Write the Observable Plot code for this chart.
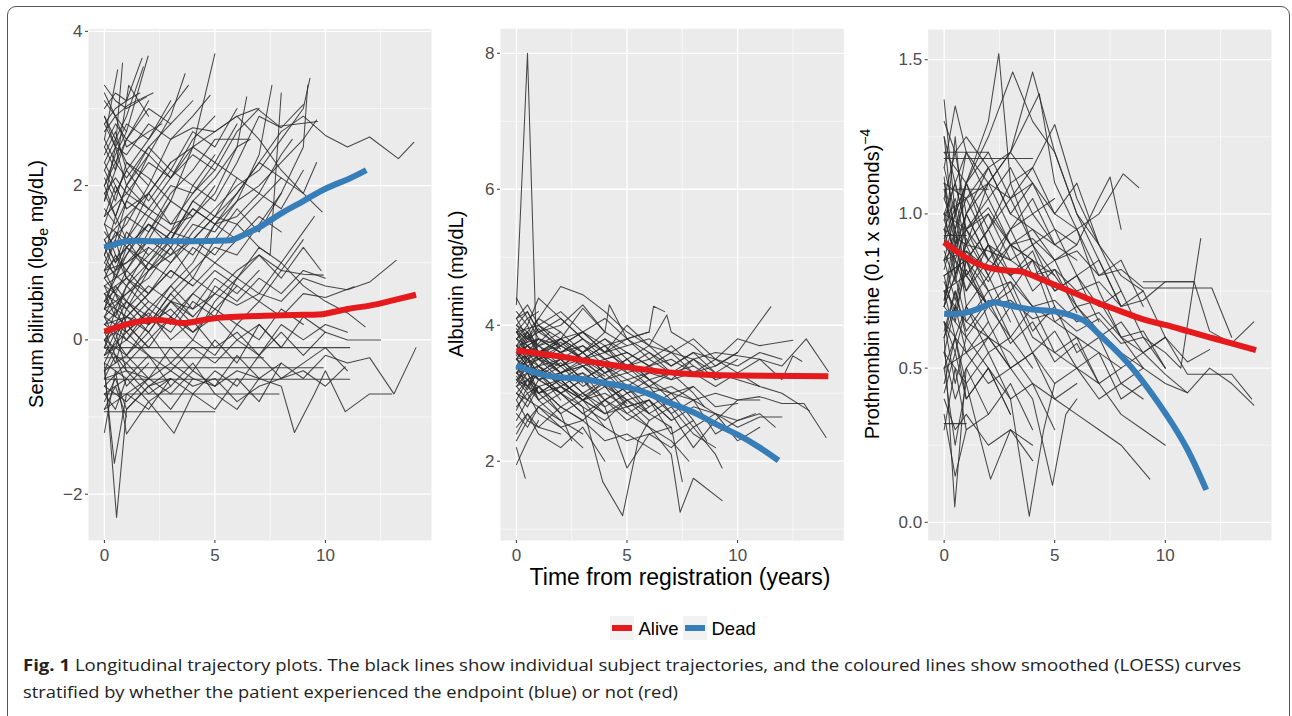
<!DOCTYPE html>
<html><head><meta charset="utf-8">
<script src="https://cdn.jsdelivr.net/npm/d3@7"></script>
<script src="https://cdn.jsdelivr.net/npm/@observablehq/plot@0.6"></script>
<style>
body{margin:0;background:#fff;}
#wrap{position:relative;width:1292px;height:716px;overflow:hidden;font-family:"Liberation Sans",Arial,sans-serif;}
#frame{position:absolute;left:7px;top:6px;width:1283px;height:760px;border:1.4px solid #555;border-radius:9px;box-sizing:border-box;}
.panel{position:absolute;top:0;}
#overlay{position:absolute;left:0;top:0;}
</style></head>
<body>
<div id="wrap"><div id="frame"></div>
<div id="p1" class="panel" style="left:0px"></div>
<div id="p2" class="panel" style="left:440px"></div>
<div id="p3" class="panel" style="left:850px"></div>
<svg id="overlay" width="1292" height="716"></svg>
</div>
<script>
// ---------- axis ticks ----------
const xTicks = [0, 5, 10];
const xMinor = [2.5, 7.5, 12.5];
const biliTicks = [-2, 0, 2, 4];
const biliMinor = [-1, 1, 3];
const albTicks = [2, 4, 6, 8];
const albMinor = [1, 3, 5, 7];
const proTicks = [0.0, 0.5, 1.0, 1.5];
const proMinor = [0.25, 0.75, 1.25];

// ---------- individual trajectories: [t0, v0, t1, v1, ...] ----------
const biliSubjects = [
  [0,0.4, 0.5,0.5, 1,0.6, 2,0.9, 3,1.1, 4,1.3, 5,1.6, 6,1.9, 7,2.3, 8,2.7, 9,2.9, 10,2.65, 11,2.5, 12,2.63, 13.3,2.35, 14,2.56],
  [0,-0.5, 1,-0.4, 2,-0.5, 3,-0.3, 4,-0.5, 5,-0.6, 6,-0.4, 7,-0.5, 8,-0.3, 9,-0.5, 10,-0.2, 11,-0.3, 12,-0.23, 13.1,-0.7, 14.1,-0.1],
  [0,0.2, 1,0.3, 2,0.1, 3,0.5, 4,0.4, 5,0.6, 6,0.45, 7,0.6, 8,0.5, 9,0.8, 10,0.7, 11,0.65, 12,0.75, 13.2,1.03],
  [0,-0.3, 1,-0.5, 2,-0.2, 3,-0.6, 4,-0.3, 5,-0.7, 6,-0.9, 7,-0.5, 8,-0.6, 8.6,-1.2, 9.5,-0.7, 10,-0.4, 10.9,-0.93, 12,-0.7, 13,-0.7],
  [0,0.9, 1,1.0, 2,1.3, 3,1.1, 4,1.5, 5,1.4, 6,1.8, 7,2.0, 8,2.3, 9,2.6, 9.6,2.85],
  [0,0.5, 1,0.3, 2,0.6, 3,0.9, 4,0.7, 5,1.0, 6,0.8, 7,1.2, 8,1.0, 9,0.7, 10,0.5, 11,0.35, 11.8,0.17],
  [0,0.0, 1,0.2, 2,-0.1, 3,0.3, 4,0.1, 5,0.4, 6,0.2, 7,0.5, 8,0.3, 9,0.6, 10,0.55, 11.3,0.69],
  [0,-0.51, 2,-0.51, 5,-0.51, 8,-0.51, 11.1,-0.51],
  [0,-0.1, 5,-0.1, 8,-0.1, 11.1,-0.1],
  [0,-0.23, 3,-0.23, 7.2,-0.23],
  [0,-0.36, 4,-0.36, 9.9,-0.36],
  [0,-0.7, 3,-0.7, 7.9,-0.7],
  [0,-0.93, 2,-0.93, 5,-0.93],
  [0,1.5, 0.5,1.9, 1,2.2, 2,2.6, 3,3.0, 3.8,3.3],
  [0,1.0, 0.5,1.3, 1,1.8, 2,2.4, 3,2.9, 3.65,3.45],
  [0,0.7, 1,0.9, 2,1.3, 3,1.8, 4,2.5, 5,3.71],
  [0,2.0, 0.5,2.4, 1,2.7, 1.98,3.68],
  [0,1.8, 0.5,2.5, 0.82,3.59],
  [0,2.3, 0.5,2.6, 1,2.9, 1.76,3.54],
  [0,1.2, 1,1.5, 2,2.0, 3,2.6, 4,2.9, 4.78,3.17],
  [0,0.3, 1,0.6, 2,0.8, 3,1.2, 4,1.6, 5,1.9, 6,2.5, 6.44,3.15],
  [0,-0.2, 1,0.1, 2,0.4, 3,0.7, 4,1.0, 5,1.5, 6,1.8, 7,2.4, 7.58,3.3],
  [0,0.6, 1,0.8, 2,1.1, 3,1.4, 4,1.3, 5,1.6, 6,1.5, 7,1.2, 7.5,1.1, 8,3.2],
  [0,0.8, 1,1.0, 2,1.2, 3,1.0, 4,1.4, 5,1.7, 6,2.0, 7,2.2, 8,2.6, 9,3.0, 9.3,3.39],
  [0,0.1, 1,0.3, 2,0.2, 3,0.6, 4,0.9, 5,1.2, 6,1.1, 7,1.5, 8,1.9, 9,2.5, 9.2,3.3],
  [0,2.2, 0.5,2.5, 1,2.4, 2,2.8, 3,2.6, 4,2.75, 5,2.7, 6,2.9, 6.9,3.0, 7.9,2.77, 9.65,2.83],
  [0,1.3, 1,1.6, 2,1.9, 3,2.3, 4,2.5, 5,2.7, 6,2.9, 7,2.6, 8,2.2, 9,1.9, 9.85,1.66],
  [0,-0.7, 1,-0.5, 2,-0.8, 3.15,-1.21, 4,-0.7, 5,-0.9, 6,-0.5, 7,-0.8, 8,-0.3],
  [0,-1.2, 0.5,-0.4, 1,-1.22, 2,-0.8, 3,-0.6],
  [0,-0.4, 0.45,-1.6, 1,-0.7, 2,-0.5],
  [0,-0.3, 0.55,-2.3, 1,-0.9, 2,-0.6, 3,-0.5],
  [0,1.7, 0.5,1.5, 1,1.8, 2,1.6, 3,2.0, 4,1.9, 5,2.2],
  [0,2.7, 0.5,2.9, 1,2.5, 2,2.7, 2.6,2.8],
  [0,2.9, 0.5,2.6, 1,2.3, 2,2.1, 3,1.8],
  [0,0.0, 0.5,0.2, 1,0.5, 2,1.0, 3,1.3, 4,1.8, 5,2.1, 6,2.5, 6.6,2.6],
  [0,-0.1, 1,-0.3, 2,0.0, 3,0.3, 4,0.0, 5,0.5, 6,0.8, 7,0.6, 8,1.0, 9,1.4, 9.5,1.6],
  [0,0.4, 1,0.2, 2,0.5, 3,0.3, 4,0.6, 5,0.4, 6,0.7, 7,0.5, 8,0.9, 9,0.85, 9.9,0.84],
  [0,-0.6, 1,-0.3, 2,-0.6, 3,-0.4, 4,-0.1, 5,-0.3, 6,0.0, 7,-0.2, 8,0.1, 9,-0.2, 10,0.1, 11,0.0, 12.5,0.0],
  [0,0.2, 1,0.0, 2,-0.2, 3,-0.4, 4,-0.6, 5,-0.5, 6,-0.8, 7,-0.6, 8,-0.5, 9,-0.4, 10,-0.6, 10.9,-0.35],
  [0,1.1, 0.5,1.4, 1,1.2, 2,1.5, 3,1.3, 4,1.7, 5,1.5, 6,1.6, 7,1.9, 8,1.7, 9,2.2],
  [0,1.4, 0.5,1.2, 1,1.6, 2,1.4, 3,1.9, 4,2.2, 5,2.6, 6,2.6, 6.5,2.6],
  [0,0.9, 0.5,0.6, 1,0.4, 2,0.7, 3,0.5, 4,0.8, 5,0.6, 6,0.9, 7,1.1, 8,0.8, 9,1.2, 9.8,0.9],
  [0,-0.9, 1,-0.7, 2,-0.9, 3,-0.5, 4,-0.7, 5,-0.4, 6,-0.6, 7,-0.2, 8,-0.5, 9,-0.3, 10,-0.1, 11,-0.4],
  [0,0.5, 0.5,0.8, 1,1.1, 2,1.6, 3,1.4, 4,2.0, 5,1.8, 6,2.3, 7,2.9, 8,2.75, 9,3.05],
  [0,1.9, 0.5,2.1, 1,1.9, 2,2.3, 3,2.1, 4,2.5, 5,2.3, 6,2.8],
  [0,0.3, 1,0.1, 2,0.35, 3,0.0, 4,0.25, 5,-0.1, 6,0.1, 7,-0.2, 8,0.2, 9,0.0, 10,0.2, 11,0.1],
  [0,1.6, 1,1.9, 2,1.7, 3,2.1, 4,2.4, 5,2.2, 6,2.7, 7,3.0],
  [0,0.6, 1,0.4, 2,0.9, 3,1.2, 4,0.8, 5,1.3, 6,1.7, 7,1.4, 8,1.9],
  [0,-0.2, 1,0.0, 2,0.3, 3,0.1, 4,0.5, 5,0.3, 6,0.8, 7,1.1, 8,0.9, 9,1.3],
  [0,0.8, 0.5,1.1, 1,0.9, 2,1.4, 3,1.8, 4,1.6, 5,2.0],
  [0,2.5, 0.5,2.8, 1,2.6, 2,3.0, 3,2.8, 4,3.1],
  [0,1.0, 1,0.7, 2,1.0, 3,0.8, 4,1.2, 5,1.0, 6,1.3, 7,1.6, 8,1.4],
  [0,0.2, 1,0.5, 2,0.3, 3,0.7, 4,0.4, 5,0.8, 6,0.6, 7,0.9],
  [0,-0.4, 1,-0.2, 2,-0.5, 3,-0.1, 4,-0.4, 5,0.0, 6,-0.3, 7,0.2, 8,-0.1, 9,0.3, 10,0.1],
  [0,1.9, 0.5,1.6, 1,2.0, 2,2.4, 3,2.1, 4,2.6, 5,2.9],
  [0,0.5, 1,0.8, 2,0.6, 3,1.0, 4,1.3, 5,1.1, 6,1.5, 7,1.8, 8,2.1, 9,1.9, 9.6,2.3],
  [0,-0.6, 1,-0.8, 2,-0.5, 3,-0.7, 4,-0.4, 5,-0.6, 6,-0.2, 7,-0.5],
  [0,1.3, 0.5,1.0, 1,1.2, 2,0.9, 3,1.3, 4,1.1, 5,1.5, 6,1.3],
  [0,0.0, 1,-0.2, 2,0.1, 3,-0.3, 4,0.0, 5,-0.2, 6,0.2, 7,0.0, 8,0.4, 9,0.2],
  [0,2.2, 0.5,1.9, 1,2.2, 2,1.8, 3,2.2, 4,2.0, 5,2.4],
  [0,0.9, 1,1.2, 2,1.5, 3,1.3, 4,1.8, 5,1.6, 6,2.1, 7,1.9, 8,2.4, 8.5,2.6],
  [0,-0.1, 0.5,0.2, 1,0.0, 2,0.4, 3,0.2, 4,0.6, 5,0.9, 6,0.7],
  [0,0.7, 1,0.5, 2,0.2, 3,0.4, 4,0.1, 5,0.3, 6,0.0, 7,0.2, 8,-0.1],
  [0,1.5, 1,1.3, 2,1.7, 3,1.5, 4,1.9, 5,2.3, 6,2.1],
  [0,2.8, 0.5,2.5, 1,2.8, 2,2.6, 3,3.1],
  [0,0.3, 0.5,0.0, 1,0.4, 2,0.1, 3,0.5, 4,0.2, 5,0.7, 6,0.5, 7,0.8, 8,0.6, 9,0.9, 10,0.8],
  [0,-0.8, 0.5,-0.5, 1,-0.9, 2,-0.6, 3,-0.9, 4,-0.5],
  [0,1.1, 0.5,0.8, 1,1.2, 2,1.0, 3,1.4, 4,1.7, 5,1.5, 6,1.9, 7,2.3, 8,2.1],
  [0,0.4, 0.5,0.7, 1,0.5, 2,0.2, 3,0.6, 4,0.3],
  [0,2.0, 0.5,2.3, 1,2.1, 2,2.5, 3,2.2, 4,2.7, 5,2.5, 6,3.0],
  [0,-0.3, 0.5,0.0, 1,-0.2, 2,0.2, 3,0.5, 4,0.3, 5,0.6],
  [0,3.2, 0.5,2.9, 1,2.7], [0,2.4, 0.5,2.7, 1,2.2], [0,2.1, 0.5,1.8, 1,2.3, 2,2.0],
  [0,1.6, 0.5,2.0, 1,1.7], [0,1.3, 0.5,1.0, 1,1.4, 2,1.1], [0,0.9, 0.5,1.3, 1,0.8],
  [0,0.6, 0.5,0.3, 1,0.7, 2,0.4], [0,0.3, 0.5,0.6, 1,0.2], [0,0.0, 0.5,-0.3, 1,0.2, 2,-0.1],
  [0,-0.2, 0.5,0.1, 1,-0.4], [0,-0.5, 0.5,-0.2, 1,-0.6, 2,-0.3], [0,-0.7, 0.5,-0.9, 1,-0.5],
  [0,-0.9, 0.5,-0.6, 1,-1.0], [0,2.6, 0.5,2.3, 1,2.6, 2,2.4], [0,1.8, 0.5,2.2, 1,2.6, 2,3.1],
  [0,1.1, 0.5,1.6, 1,2.0, 2,2.5, 3,2.8], [0,0.4, 0.5,0.9, 1,1.3, 2,1.9, 3,2.3], [0,-0.1, 0.5,0.4, 1,0.7, 2,1.2],
  [0,2.0, 0.5,1.6, 1,1.3, 2,0.9], [0,1.5, 0.5,1.1, 1,0.8, 2,0.5], [0,0.7, 0.5,0.4, 1,0.1, 2,-0.2],
  [0,3.0, 0.5,3.2, 1,3.1, 1.6,3.2], [0,2.9, 0.5,2.5, 1,2.0, 2,1.7], [0,0.1, 0.5,-0.2, 1,-0.4, 2,-0.7, 3,-0.5],
  [0,-0.4, 0.5,-0.1, 1,0.3, 2,0.6], [0,1.2, 0.5,0.9, 1,1.1, 2,1.5, 3,1.2], [0,2.3, 0.5,2.0, 1,1.7, 2,1.9, 3,1.5, 4,1.6],
  [0,0.8, 0.5,0.6, 1,0.9, 2,0.6, 3,0.9, 4,0.7], [0,3.3, 0.5,3.1, 1,3.0, 1.9,3.15], [0,3.1, 0.5,2.9, 1.1,3.05, 2.2,3.2],
  [0,2.8, 0.5,3.0, 1,3.1, 1.7,3.65], [0,2.6, 0.6,3.5], [0,2.5, 0.5,2.2, 1.1,3.3, 2,2.9]
];

const albSubjects = [
  [0,3.6, 0.5,3.7, 1,3.5, 2,3.6, 3,3.4, 4,3.5, 5,3.3, 6,3.4, 7,3.2, 8,3.3, 9,3.1, 10,3.3, 11,3.5, 12,3.4, 13.1,3.8, 14.1,3.32],
  [0,3.3, 1,3.4, 2,3.2, 3,3.3, 4,3.1, 5,3.2, 6,3.0, 7,3.1, 8,2.9, 9,3.0, 10,2.9, 11,2.95, 12,2.85, 13,2.85, 14,2.35],
  [0,3.8, 1,3.6, 2,3.7, 3,3.5, 4,3.6, 5,3.4, 6,3.5, 7,3.3, 8,3.4, 9,3.2, 10,3.3, 11,3.1, 12,3.0, 13.25,2.74],
  [0,3.5, 1,3.3, 2,3.5, 3,3.2, 4,3.4, 5,3.1, 6,3.3, 7,3.2, 8,3.5, 9,3.6, 10,3.55, 11,3.5, 12,3.2, 12.5,3.55, 12.9,3.47],
  [0,3.7, 1,3.8, 2,3.6, 3,3.7, 4,3.5, 5,3.6, 6,3.4, 7,3.5, 8,3.3, 9,3.4, 10,3.6, 11.5,4.27],
  [0,4.0, 0.5,3.9, 1,4.1, 2,4.57, 3,4.45, 4,4.2, 5,3.9, 6,3.7, 7,3.6, 8,3.5, 9,3.3, 10,3.2, 11,3.1],
  [0,3.2, 1,3.0, 2,3.1, 3,2.9, 4,3.0, 5,2.8, 6,2.9, 7,2.6, 8,2.8, 9,2.7, 10,2.5, 11,2.65, 12,2.65],
  [0,3.4, 1,3.5, 2,3.3, 3,3.4, 4,3.2, 5,3.3, 6,3.1, 7,3.0, 8,2.9, 9,2.7, 10,2.6, 11,2.7, 11.7,2.5],
  [0,3.9, 1,3.7, 2,3.8, 3,3.9, 4,3.7, 5,3.8, 6,3.6, 7,3.4, 8,3.6, 9,3.5, 10,3.8, 11,3.7, 12.5,3.78],
  [0,3.6, 0.5,3.4, 1,3.2, 2,3.0, 3,2.8, 3.9,1.7, 4.8,1.2, 5.5,2.3, 6,2.6],
  [0,3.3, 1,3.1, 2,3.2, 3,2.9, 4,2.7, 5,2.8, 6,2.5, 7,2.1, 7.4,1.25, 8,1.75, 9.3,1.42],
  [0,3.5, 1,3.6, 2,3.3, 3,3.4, 4,3.1, 5,2.9, 6,2.7, 7,2.5, 7.5,1.7],
  [0,4.1, 0.5,4.2, 1,3.9, 2,4.0, 3,4.3, 4,3.9, 4.2,4.3, 5,3.8, 6,3.9, 6.2,4.28, 6.7,4.2],
  [0,3.0, 1,2.8, 2,3.0, 3,2.7, 4,2.5, 5,2.3, 6,2.4, 7,2.2, 8,2.5, 9,2.1, 9.3,1.9],
  [0,3.7, 1,3.5, 2,3.4, 3,3.6, 4,3.3, 5,3.5, 6,3.2, 7,3.3, 8,3.0, 8.5,2.8],
  [0,3.2, 1,3.4, 2,3.1, 3,2.9, 4,3.2, 5,2.9, 6,3.0, 7,2.7, 8,2.2, 9,2.6, 10,2.9, 11,2.9],
  [0,3.9, 1,4.0, 2,3.8, 3,4.25, 4,3.9, 5,3.7, 6,3.8, 7,3.6, 8,3.8, 9,3.5, 10,3.3],
  [0,3.4, 1,3.2, 2,3.3, 3,3.0, 4,2.8, 5,1.9, 6,2.4, 7,2.5],
  [0,2.8, 0.5,3.0, 1,2.7, 2,2.5, 3,2.6, 4,2.3, 5,2.4, 6,2.2, 6.5,2.1],
  [0,3.6, 1,3.8, 2,3.7, 3,3.9, 4,3.6, 5,4.0, 6,3.7, 6.8,4.15, 7,3.9, 8,3.7, 9,3.4, 10,3.6],
  [0,3.1, 1,3.3, 2,3.0, 3,3.2, 4,2.9, 5,3.1, 6,2.8, 7,3.0, 8,2.6, 8.6,2.3],
  [0,3.5, 0.5,3.3, 1,3.6, 2,3.4, 3,3.5, 4,3.3, 5,3.4, 6,3.2, 7,3.0, 8,3.1, 9,2.8, 10,2.85],
  [0,3.8, 0.5,3.6, 1,3.7, 2,3.5, 3,3.7, 4,3.4, 5,3.2, 6,3.3],
  [0,2.6, 0.5,2.9, 1,3.1, 2,2.8, 3,2.6, 4,2.9, 5,2.7, 6,2.5, 7,2.3, 7.8,2.0],
  [0,4.2, 0.5,4.0, 1,4.4, 2,4.1, 3,3.8, 4,3.6, 5,3.7],
  [0,3.3, 0.5,3.5, 1,3.2, 2,3.4, 3,3.1, 4,3.3, 5,3.0, 6,3.1, 7,2.7, 8,2.9, 9,2.4, 10,2.6, 10.8,2.7],
  [0,3.7, 0.5,3.5, 1,3.6, 2,3.3, 3,3.5, 4,3.2, 5,3.4, 6,3.1, 7,3.3],
  [0,3.4, 0.5,3.6, 1,3.4, 2,3.5, 3,3.2, 4,3.4, 5,3.0, 6,3.2, 7,2.9, 8,3.1],
  [0,3.9, 0.5,3.6, 1,3.8, 2,3.6, 3,3.8, 4,3.5, 5,3.6],
  [0,3.1, 0.5,2.9, 1,3.2, 2,3.0, 3,2.7, 4,2.9, 5,2.6, 6,2.8],
  [0,3.6, 1,3.4, 2,3.7, 3,3.5, 4,3.7, 5,3.4, 6,3.6, 7,3.3, 8,3.5, 9,3.2],
  [0,3.3, 0.5,3.1, 1,3.4, 2,3.1, 3,3.3, 4,2.9, 5,3.1, 6,2.7],
  [0,4.0, 0.5,3.8, 1,3.9, 2,3.7, 3,3.9, 4,3.6, 5,3.8, 6,3.5, 7,3.7, 8,3.4],
  [0,2.9, 0.5,3.2, 1,3.0, 2,2.7, 3,2.9, 4,2.5],
  [0,3.5, 0.5,3.7, 1,3.5, 2,3.8, 3,3.6, 4,3.8, 5,3.5, 6,3.7, 7,3.4, 8,3.6, 9,3.3, 10,3.5],
  [0,3.2, 0.5,3.4, 1,3.2, 2,3.3, 3,3.0, 4,3.2, 5,2.8, 6,2.9, 7,2.4, 8,2.6],
  [0,3.8, 0.5,3.9, 1,3.6, 2,3.8, 3,3.5, 4,3.7, 5,3.3],
  [0,3.0, 0.5,2.8, 1,3.1, 2,2.8, 3,3.0, 4,2.7, 5,2.9, 6,2.6, 7,2.8, 8,2.4, 9,2.2],
  [0,3.6, 0.5,3.4, 1,3.5, 2,3.2, 3,3.4, 4,3.1],
  [0,4.1, 0.5,4.3, 1,4.0, 2,4.2, 3,3.9, 4,4.1, 5,3.8, 6,3.9],
  [0,3.4, 0.5,3.2, 1,3.3, 2,3.0, 3,3.2, 4,2.8, 5,3.0, 6,2.7, 7,2.9, 8,2.5, 9,2.7, 10,2.3, 11,2.5],
  [0,3.7, 0.5,3.9, 1,3.7, 2,3.9, 3,3.6, 4,3.8, 5,3.6, 6,3.4, 7,3.6, 8,3.3, 9,3.5, 10,3.4, 11,3.6, 12,3.5],
  [0,2.4, 0.5,2.7, 1,2.5, 2,2.8, 3,2.6],
  [0,3.3, 0.5,3.5, 1,3.7, 2,3.4, 3,3.6, 4,3.3, 5,3.5, 6,3.2],
  [0,3.9, 0.5,4.1, 1,3.8, 2,3.6, 3,3.8],
  [0,3.5, 0.5,3.3, 1,3.0, 2,3.2, 3,2.9, 4,3.1, 5,2.7, 6,2.9, 7,2.6],
  [0,4.3, 0.5,8.0, 0.9,3.7, 1.5,3.9],
  [0,2.2, 0.4,1.75], [0,1.95, 0.5,2.3, 1,2.6], [0,2.3, 0.5,2.6, 1,2.5, 2,2.4],
  [0,3.9, 0.5,3.7, 1,3.8], [0,3.6, 0.5,3.9, 1,3.5, 2,3.7], [0,3.4, 0.5,3.1, 1,3.3, 2,2.9],
  [0,3.1, 0.5,3.3, 1,2.9], [0,2.9, 0.5,2.6, 1,2.8, 2,2.5, 3,2.2], [0,3.7, 0.5,3.5, 1,3.3, 2,3.5, 3,3.2],
  [0,4.0, 0.5,4.2, 1,3.9, 2,4.1, 3,3.8], [0,3.5, 0.5,3.8, 1,4.1, 2,3.9], [0,3.2, 0.5,3.0, 1,3.1, 2,2.7, 2.5,2.3],
  [0,3.8, 0.5,4.0, 1,3.6, 2,3.8, 3,3.6, 4,3.9], [0,3.0, 0.5,3.2, 1,2.9, 2,3.1, 3,2.8, 4,2.6, 5,2.9],
  [0,2.7, 0.5,2.5, 1,2.8, 2,2.6, 3,2.4], [0,4.4, 0.5,4.1, 1,4.2], [0,3.65, 0.5,3.45, 1,3.55, 2,3.3, 3,3.45, 4,3.25],
  [0,3.35, 0.5,3.55, 1,3.25, 2,3.45, 3,3.15], [0,2.5, 0.5,2.7, 1,2.4, 2,2.2, 3,2.5, 4,2.0],
  [0,3.95, 0.5,3.75, 1,3.95, 2,3.65], [0,3.25, 0.5,3.05, 1,3.35, 2,3.15, 3,2.95, 4,3.15, 5,2.85],
  [0,3.55, 0.5,3.85, 1,3.6, 2,3.75, 3,3.5], [0,3.15, 0.5,3.4, 1,3.0, 2,3.2, 3,2.9, 4,2.7],
  [0,4.1, 0.5,3.8, 1,4.0, 2,3.7], [0,2.75, 0.5,3.1, 1,2.9, 2,2.6]
];

const proSubjects = [
  [0,0.95, 1,0.9, 2,0.88, 3,0.85, 4,0.8, 5,0.82, 6,0.75, 7,0.78, 8,0.7, 9,0.72, 10,0.78, 11.3,0.78, 12,0.62, 13,0.58, 14,0.65],
  [0,0.8, 1,0.85, 2,0.75, 3,0.78, 4,0.7, 5,0.72, 6,0.65, 7,0.68, 8,0.6, 9,0.55, 10,0.6, 11,0.48, 12.1,0.48, 13,0.48, 13.9,0.40],
  [0,1.0, 1,0.95, 2,1.02, 3,0.9, 4,0.92, 5,0.85, 6,0.88, 7,0.8, 8,0.82, 9,0.76, 10,0.76, 12.1,0.76, 13,0.6],
  [0,0.75, 1,0.8, 2,0.7, 3,0.72, 4,0.66, 5,0.68, 6,0.62, 7,0.66, 8,0.58, 9,0.6, 10,0.55, 10.7,0.5, 11.6,0.92],
  [0,1.1, 1,1.05, 2,1.15, 3,1.2, 4,1.1, 5,1.0, 6,0.95, 7,1.0, 8.1,1.13, 8.8,1.085],
  [0,0.85, 1,0.88, 2,0.82, 3,0.9, 4,0.85, 5,0.8, 6,0.7, 7,0.62, 8,0.55, 9,0.5, 10,0.45, 11,0.42],
  [0,1.2, 1,1.1, 2,1.25, 3.1,1.46, 4,1.3, 5,1.2, 6,1.0, 7,0.9, 8,0.8, 9,0.75],
  [0,0.9, 1,1.1, 2,1.3, 2.47,1.52, 3,1.1, 4,0.9, 5,0.8],
  [0,0.7, 1,0.9, 2,1.1, 3,1.2, 4,1.46, 5,1.2, 6,1.0, 7,0.85, 8,0.7],
  [0,1.0, 1,1.05, 2,1.1, 3,1.2, 4.3,1.39, 5,1.1, 6,0.95, 7,0.75, 8,0.6, 9,0.5],
  [0,0.8, 1,0.85, 2,0.95, 3,1.1, 4,1.15, 5,1.29, 6,1.05, 7,0.9, 8,0.75, 9,0.6, 10,0.5],
  [0,0.6, 0.48,0.05, 1,0.5, 2,0.6, 3,0.5],
  [0,0.7, 1,0.6, 2,0.5, 3,0.4, 3.85,0.02, 4.5,0.3, 5,0.45],
  [0,0.65, 1,0.55, 2,0.45, 3,0.5, 4,0.4, 4.9,0.12, 5.5,0.35, 6,0.4],
  [0,0.55, 1,0.45, 2.1,0.14, 3,0.3, 4,0.25],
  [0,0.75, 1,0.65, 2,0.6, 3,0.55, 4,0.45, 5,0.4, 6,0.35, 7,0.3, 8,0.25, 9.3,0.14],
  [0,0.9, 1,0.8, 2,0.7, 3,0.75, 4,0.6, 5,0.55, 6,0.5, 7,0.45, 8,0.35, 9,0.3, 10,0.25],
  [0,1.05, 0.5,1.2, 1,1.0, 2,1.1, 3,0.95, 4,1.0, 5,0.9, 6,0.85],
  [0,0.5, 1,0.55, 2,0.6, 3,0.5, 4,0.55, 5,0.45, 6,0.5, 7,0.4, 8,0.45, 9,0.4],
  [0,0.4, 0.5,0.3, 1,0.35, 2,0.25, 3,0.3, 4,0.2],
  [0,1.3, 0.5,1.2, 1,1.25, 2,1.15, 3,1.0, 4,0.95, 5,0.9],
  [0,1.15, 0.5,1.35, 1,1.2, 2,1.1, 3,1.05, 4,1.1, 5,0.95, 6,0.9, 7,1.05, 7.5,1.12, 8,0.95],
  [0,0.85, 1,0.95, 2,0.85, 3,0.8, 4,0.7, 5,0.65, 6,0.6, 7,0.55, 8,0.5, 9,0.55, 10,0.48, 11,0.42, 12,0.5, 13,0.45, 14,0.38],
  [0,0.95, 0.5,1.05, 1,0.9, 2,1.0, 3,0.85, 4,0.9, 5,0.75, 6,0.8, 7,0.65],
  [0,0.7, 0.5,0.8, 1,0.65, 2,0.75, 3,0.6, 4,0.7, 5,0.55, 6,0.6, 7,0.45, 8,0.5],
  [0,1.05, 0.5,0.95, 1,1.1, 2,0.95, 3,1.05, 4,0.9, 5,0.95, 6,0.8, 7,0.85, 8,0.7, 9,0.75, 10,0.6],
  [0,0.6, 0.5,0.7, 1,0.55, 2,0.65, 3,0.5, 4,0.55, 5,0.4, 6,0.45],
  [0,0.88, 0.5,0.78, 1,0.92, 2,0.8, 3,0.95, 4,1.05, 5,0.9, 6,0.95, 7,0.8, 8,0.85, 9,0.7],
  [0,0.5, 0.5,0.6, 1,0.45, 2,0.55, 3,0.4, 4,0.45, 5,0.3],
  [0,1.15, 0.5,1.0, 1,1.1, 2,1.2, 3,1.05, 4,1.15, 5,1.0, 6,1.1, 7,0.9],
  [0,0.78, 0.5,0.68, 1,0.82, 2,0.7, 3,0.78, 4,0.62, 5,0.7, 6,0.55, 7,0.6, 8,0.45, 9,0.5],
  [0,0.92, 0.5,1.02, 1,0.85, 2,0.95, 3,0.8, 4,0.88, 5,0.7],
  [0,0.65, 0.5,0.55, 1,0.7, 2,0.6, 3,0.7, 4,0.55, 5,0.62, 6,0.5, 7,0.55, 8,0.4, 9,0.45, 10,0.35],
  [0,1.0, 0.5,1.1, 1,0.95, 2,1.05, 3,0.9, 4,0.95, 5,0.85, 6,0.9],
  [0,0.82, 0.5,0.95, 1,0.8, 2,0.9, 3,0.75, 4,0.85, 5,0.65, 6,0.7, 7,0.6, 8,0.65, 9,0.55, 10,0.6, 11,0.52, 12,0.56],
  [0,0.55, 0.5,0.4, 1,0.5, 2,0.35, 3,0.45, 4,0.3],
  [0,1.25, 0.5,1.1, 1,1.2, 2,1.05, 3,1.15, 4,1.0, 5,1.05],
  [0,0.72, 0.5,0.85, 1,0.75, 2,0.9, 3,0.8, 4,0.85, 5,0.75, 6,0.8, 7,0.7, 8,0.75],
  [0,0.98, 0.5,0.88, 1,1.0, 2,0.85, 3,0.95, 4,0.8, 5,0.85, 6,0.7, 7,0.72, 8,0.6, 9,0.62, 10,0.5],
  [0,0.42, 0.5,0.55, 1,0.4, 2,0.5, 3,0.35],
  [0,1.08, 0.5,0.9, 1,1.0, 2,1.15, 3,1.0, 4,1.1],
  [0,0.62, 0.5,0.75, 1,0.62, 2,0.72, 3,0.58, 4,0.65, 5,0.52, 6,0.58, 7,0.45],
  [0,0.85, 0.5,0.72, 1,0.88, 2,0.78, 3,0.9, 4,0.75, 5,0.82, 6,0.68],
  [0,1.2, 1,1.2, 2,1.2], [0,1.18, 2,1.18, 4,1.18], [0,1.08, 1,1.08, 2,1.08], [0,0.93, 1,0.93],
  [0,0.32, 1,0.32], [9,0.78, 10,0.78, 11.3,0.78],
  [0,1.37, 0.5,1.0, 1,1.2], [0,1.25, 0.5,0.9, 1,1.1, 2,0.9], [0,0.3, 0.5,0.5, 1,0.3, 2,0.35],
  [0,0.95, 0.5,0.8, 1,0.9, 2,0.75], [0,0.7, 0.5,0.9, 1,0.75, 2,0.85], [0,0.6, 0.5,0.75, 1,0.6, 2,0.7, 3,0.6],
  [0,0.45, 0.5,0.6, 1,0.4, 2,0.5, 3,0.35], [0,1.0, 0.5,0.85, 1,0.95, 2,0.8], [0,0.85, 0.5,1.0, 1,0.8, 2,0.9, 3,0.7],
  [0,0.55, 0.5,0.7, 1,0.85, 2,0.65], [0,1.1, 0.5,0.95, 1,1.05, 2,0.9, 3,0.85], [0,0.75, 0.5,0.6, 1,0.7, 2,0.55, 3,0.6, 4,0.5],
  [0,0.9, 0.5,1.25, 1,0.9], [0,0.65, 0.5,0.45, 1,0.6], [0,0.8, 0.5,0.65, 1,0.85, 2,0.7],
  [0,0.35, 0.5,0.15, 1,0.3], [0,0.5, 0.5,0.25, 1,0.45], [0,0.98, 0.5,1.1, 1,0.95, 2,1.0, 3,0.9, 4,0.85],
  [0,0.72, 0.5,0.95, 1,0.7, 2,0.8, 3,0.65], [0,1.12, 0.5,0.8, 1,1.0, 2,0.85]
];

// ---------- LOESS curves: [t, value] ----------
const biliAlive = [[0,0.107],[1,0.2],[2,0.255],[3,0.24],[3.7,0.22],[5,0.28],[7,0.31],[9,0.325],[10,0.34],[11,0.4],[12,0.445],[13,0.51],[14.1,0.585]];
const biliDead  = [[0,1.2],[1,1.28],[2,1.28],[4,1.28],[5.5,1.29],[6,1.32],[7,1.46],[8,1.64],[9,1.8],[10,1.96],[11,2.08],[11.85,2.2]];
const albAlive  = [[0,3.63],[2,3.54],[4,3.43],[6,3.34],[7.5,3.29],[10,3.26],[14.1,3.25]];
const albDead   = [[0,3.41],[1,3.29],[2,3.23],[3,3.21],[4,3.15],[5,3.09],[6,2.99],[7,2.85],[8,2.72],[9,2.55],[10,2.39],[11,2.2],[11.85,2.01]];
const proAlive  = [[0,0.908],[1,0.858],[2,0.826],[3,0.816],[3.5,0.813],[4,0.8],[5,0.77],[6,0.74],[7,0.71],[8,0.684],[9,0.658],[10,0.64],[11,0.62],[12,0.6],[13,0.58],[14.1,0.558]];
const proDead   = [[0,0.676],[1,0.68],[2,0.707],[2.3,0.714],[3,0.703],[4,0.69],[5,0.684],[6,0.665],[6.5,0.645],[7,0.61],[8,0.54],[9,0.455],[10,0.354],[11,0.236],[11.85,0.105]];

const groupColors = {Alive: "#E41A1C", Dead: "#377EB8"};
const plainFormat = d => String(d).replace("-", "\u2212");

function panel({subjects, alive, dead, yDomain, yTicks, yMinor, yFormat, width, ml, mr, mt}) {
  const rows = [];
  subjects.forEach((s, i) => { for (let k = 0; k < s.length; k += 2) rows.push({id: i, t: s[k], v: s[k + 1]}); });
  const A = alive.map(([t, v]) => ({t, v}));
  const D = dead.map(([t, v]) => ({t, v}));
  return Plot.plot({
    width, height: 580, marginLeft: ml, marginRight: mr, marginTop: mt, marginBottom: 40,
    style: {fontFamily: "Liberation Sans, Arial, sans-serif", fontSize: "17px", background: "transparent", overflow: "visible"},
    x: {domain: [-0.72, 14.8]},
    y: {domain: yDomain},
    marks: [
      Plot.frame({fill: "#EBEBEB", stroke: "none"}),
      Plot.gridX(xMinor, {stroke: "#fff", strokeOpacity: 1, strokeWidth: 0.6}),
      Plot.gridY(yMinor, {stroke: "#fff", strokeOpacity: 1, strokeWidth: 0.6}),
      Plot.gridX(xTicks, {stroke: "#fff", strokeOpacity: 1, strokeWidth: 1.3}),
      Plot.gridY(yTicks, {stroke: "#fff", strokeOpacity: 1, strokeWidth: 1.3}),
      Plot.line(rows, {x: "t", y: "v", z: "id", stroke: "#2a2a2a", strokeOpacity: 0.85, strokeWidth: 1.05, clip: true}),
      Plot.line(A, {x: "t", y: "v", stroke: groupColors.Alive, strokeWidth: 6, curve: "natural", strokeLinecap: "butt"}),
      Plot.line(D, {x: "t", y: "v", stroke: groupColors.Dead, strokeWidth: 6, curve: "natural", strokeLinecap: "butt"}),
      Plot.axisX(xTicks, {tickSize: 3, tickPadding: 5, label: null, tickFormat: plainFormat, fill: "#4d4d4d", stroke: "#333", fontSize: 17}),
      Plot.axisY(yTicks, {tickSize: 3, tickPadding: 3, label: null, tickFormat: yFormat, fill: "#4d4d4d", stroke: "#333", fontSize: 17})
    ]
  });
}

const svg1 = panel({subjects: biliSubjects, alive: biliAlive, dead: biliDead, yDomain: [-2.6, 4.03], yTicks: biliTicks, yMinor: biliMinor, yFormat: plainFormat, width: 440, ml: 88, mr: 9, mt: 28.5});
const svg2 = panel({subjects: albSubjects, alive: albAlive, dead: albDead, yDomain: [0.834, 8.36], yTicks: albTicks, yMinor: albMinor, yFormat: plainFormat, width: 410, ml: 60, mr: 6.7, mt: 28.3});
const svg3 = panel({subjects: proSubjects, alive: proAlive, dead: proDead, yDomain: [-0.059, 1.598], yTicks: proTicks, yMinor: proMinor, yFormat: d => d.toFixed(1), width: 442, ml: 77.7, mr: 21, mt: 29});
document.getElementById("p1").appendChild(svg1);
document.getElementById("p2").appendChild(svg2);
document.getElementById("p3").appendChild(svg3);

// y axis titles
function yTitle(svg, x, y, parts) {
  const t = d3.select(svg).append("text")
    .attr("transform", `translate(${x},${y}) rotate(-90)`)
    .attr("text-anchor", "middle")
    .attr("font-family", "Liberation Sans, Arial, sans-serif")
    .attr("font-size", 20).attr("fill", "#000");
  parts.forEach(p => {
    const s = t.append("tspan").text(p.text);
    if (p.dy) s.attr("dy", p.dy);
    if (p.size) s.attr("font-size", p.size);
  });
}
yTitle(svg1, 43, 284, [{text: "Serum bilirubin (log"}, {text: "e", size: 14, dy: 5}, {text: " mg/dL)", dy: -5}]);
yTitle(svg2, 23, 284, [{text: "Albumin (mg/dL)"}]);
yTitle(svg3, 29, 284, [{text: "Prothrombin time (0.1 x seconds)"}, {text: "\u22124", size: 14, dy: -9}]);

// overlay: x title, legend, caption
const ov = d3.select("#overlay");
ov.append("text").attr("x", 680).attr("y", 585).attr("text-anchor", "middle")
  .attr("font-family", "Liberation Sans, Arial, sans-serif").attr("font-size", 23).attr("fill", "#000")
  .text("Time from registration (years)");

const legendItems = [{label: "Alive", x: 610}, {label: "Dead", x: 683}];
legendItems.forEach(it => {
  ov.append("rect").attr("x", it.x).attr("y", 616).attr("width", 24).attr("height", 24).attr("fill", "#F2F2F2");
  ov.append("rect").attr("x", it.x + 2).attr("y", 625).attr("width", 20).attr("height", 6).attr("fill", groupColors[it.label]);
  ov.append("text").attr("x", it.x + 28.5).attr("y", 634.5)
    .attr("font-family", "Liberation Sans, Arial, sans-serif").attr("font-size", 18.5).attr("fill", "#000").text(it.label);
});

const cap1 = ov.append("text").attr("x", 23).attr("y", 671)
  .attr("font-family", "Open Sans, Noto Sans, sans-serif").attr("font-size", 16.5).attr("fill", "#222")
  .attr("textLength", 1218).attr("lengthAdjust", "spacingAndGlyphs");
cap1.append("tspan").attr("font-weight", 700).text("Fig. 1");
cap1.append("tspan").text(" Longitudinal trajectory plots. The black lines show individual subject trajectories, and the coloured lines show smoothed (LOESS) curves");
ov.append("text").attr("x", 23).attr("y", 698)
  .attr("font-family", "Open Sans, Noto Sans, sans-serif").attr("font-size", 16.5).attr("fill", "#222")
  .attr("textLength", 655).attr("lengthAdjust", "spacingAndGlyphs")
  .text("stratified by whether the patient experienced the endpoint (blue) or not (red)");
</script>
</body></html>
